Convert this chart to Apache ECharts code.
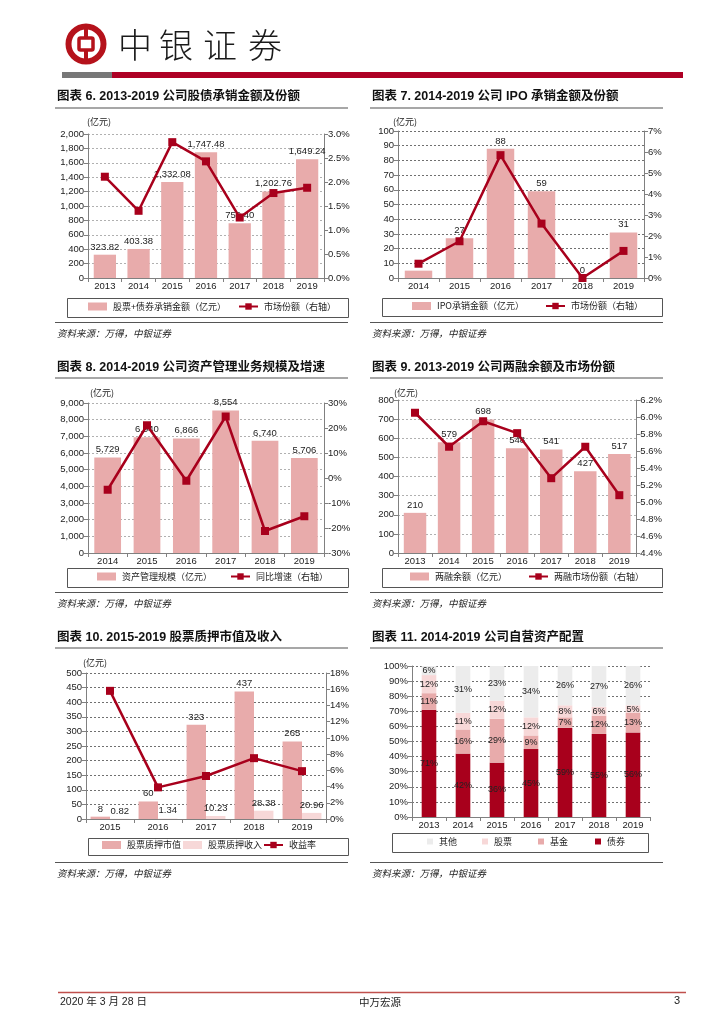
<!DOCTYPE html>
<html><head><meta charset="utf-8">
<script src="https://cdn.jsdelivr.net/npm/echarts@6/dist/echarts.min.js"></script>
<style>
html,body{margin:0;padding:0;background:#fff;}
#page{position:absolute;left:0;top:0;width:724px;height:1024px;}
.panel{position:absolute;width:300px;height:260px;}
</style></head><body>
<div id="page"></div>
<div class="panel" id="c6" style="left:55px;top:85px"></div>
<div class="panel" id="c7" style="left:365px;top:85px"></div>
<div class="panel" id="c8" style="left:55px;top:355px"></div>
<div class="panel" id="c9" style="left:365px;top:355px"></div>
<div class="panel" id="c10" style="left:55px;top:625px"></div>
<div class="panel" id="c11" style="left:365px;top:625px"></div>
<script>
// ---------------- DATA ----------------
const years6 = ['2013','2014','2015','2016','2017','2018','2019'];
const underwriting6 = [323.82, 403.38, 1332.08, 1747.48, 759.40, 1202.76, 1649.24];
const share6 = [2.11, 1.40, 2.83, 2.43, 1.26, 1.77, 1.88];

const years7 = ['2014','2015','2016','2017','2018','2019'];
const ipo7 = [5, 27, 88, 59, 0, 31];
const share7 = [0.68, 1.75, 5.85, 2.59, 0.0, 1.29];

const years8 = ['2014','2015','2016','2017','2018','2019'];
const aum8 = [5729, 6940, 6866, 8554, 6740, 5706];
const growth8 = [-4.7, 21.1, -1.1, 24.6, -21.2, -15.3];

const years9 = ['2013','2014','2015','2016','2017','2018','2019'];
const margin9 = [210, 579, 698, 548, 541, 427, 517];
const share9 = [6.05, 5.65, 5.95, 5.81, 5.28, 5.65, 5.08];

const years10 = ['2015','2016','2017','2018','2019'];
const pledgeValue10 = [8, 60, 323, 437, 265];
const pledgeIncome10 = [0.82, 1.34, 10.23, 28.38, 20.96];
const yield10 = [15.8, 3.9, 5.3, 7.5, 5.9];

const years11 = ['2013','2014','2015','2016','2017','2018','2019'];
const bonds11 = [71, 42, 36, 45, 59, 55, 56];
const funds11 = [11, 16, 29, 9, 7, 12, 13];
const stocks11 = [12, 11, 12, 12, 8, 6, 5];
const others11 = [6, 31, 23, 34, 26, 27, 26];

// ---------------- STYLE ----------------
const RED = '#A8001C', PINK = '#E8ABAB', LPINK = '#F7D8D8', LGREY = '#ECECEC';
const FN = '"Liberation Sans","Noto Sans CJK SC",sans-serif';
const FC = '"Noto Sans CJK SC",sans-serif';
const SRC = '资料来源：万得，中银证券';

const thousands = v => Number(v).toLocaleString('en-US');
const thousands2 = v => Number(v).toLocaleString('en-US',{minimumFractionDigits:2,maximumFractionDigits:2});

function decor(d) {
  const g = [];
  g.push({type:'text', x:d.tx, y:d.ty, style:{text:d.title, font:'bold 12.5px '+FN, fill:'#111', verticalAlign:'middle'}});
  g.push({type:'line', shape:{x1:d.lx1,y1:23,x2:d.lx2,y2:23}, style:{stroke:'#8a8a8a', lineWidth:1.5}});
  if (d.ux !== undefined) g.push({type:'text', x:d.ux, y:d.uy, style:{text:'(亿元)', font:'9px '+FC, fill:'#222', verticalAlign:'middle'}});
  g.push({type:'rect', shape:{x:d.bx+0.5,y:d.by+0.5,width:d.bw,height:d.bh}, style:{fill:'rgba(0,0,0,0)', stroke:'#555', lineWidth:1}});
  g.push({type:'line', shape:{x1:d.lx1,y1:237.5,x2:d.lx2,y2:237.5}, style:{stroke:'#555', lineWidth:1}});
  g.push({type:'text', x:d.lx1+2, y:248, style:{text:SRC, font:'italic 9.5px '+FC, fill:'#222', verticalAlign:'middle'}});
  return g;
}
function leg(name, left, top, isBar, w, h) {
  const o = {data:[name], left:left, top:top, itemWidth:w||19, itemHeight:h||8, itemGap:0, padding:0, selectedMode:false,
    textStyle:{fontSize:9, color:'#222', fontFamily:FC, padding:[0,0,0,1]}};
  if (isBar) o.icon = 'rect';
  return o;
}
function vAxis(min,max,interval,fmt,pos,split,gc) {
  return {type:'value', position:pos, min:min, max:max, interval:interval,
    axisLine:{show:true, lineStyle:{color:'#808080'}},
    axisTick:{show:true, length:4, lineStyle:{color:'#808080'}},
    axisLabel:{fontSize:9.5, color:'#222', margin:4, fontFamily:FN, formatter:fmt},
    splitLine:{show:!!split, lineStyle:{color:gc||'#8a8a8a', type:[2,2], width:1}}};
}
function cAxis(data) {
  return {type:'category', data:data,
    axisLine:{lineStyle:{color:'#808080'}},
    axisTick:{show:true, length:4, lineStyle:{color:'#808080'}},
    axisLabel:{fontSize:9.5, color:'#222', margin:4, fontFamily:FN}};
}
function barS(name, data, color, gap, fmt, extra) {
  return Object.assign({type:'bar', name:name, data:data, yAxisIndex:0, z:2, barCategoryGap:gap,
    itemStyle:{color:color},
    label:{show:true, position:'top', distance:3, fontSize:9.5, color:'#222', fontFamily:FN, formatter:p=>fmt(p.value)}}, extra||{});
}
function lineS(name, data) {
  return {type:'line', name:name, data:data, yAxisIndex:1, z:5, symbol:'rect', symbolSize:8,
    itemStyle:{color:RED}, lineStyle:{color:RED, width:2.5}};
}
function make(id, opt) {
  const c = echarts.init(document.getElementById(id), null, {renderer:'canvas'});
  opt.animation = false;
  c.setOption(opt);
}

// ---------------- PAGE ----------------
const brandFont = '300 34px '+FC;
make('page', {
  graphic: [
    {type:'circle', shape:{cx:86, cy:44, r:17.5}, style:{fill:'rgba(0,0,0,0)', stroke:'#B5121B', lineWidth:6}},
    {type:'line', shape:{x1:86,y1:27,x2:86,y2:61}, style:{stroke:'#B5121B', lineWidth:4}},
    {type:'rect', shape:{x:79,y:38,width:14,height:12,r:1.5}, style:{fill:'#fff', stroke:'#B5121B', lineWidth:3.5}},
    {type:'text', x:135, y:45, style:{text:'中', font:brandFont, fill:'#1a1a1a', align:'center', verticalAlign:'middle'}},
    {type:'text', x:176, y:45, style:{text:'银', font:brandFont, fill:'#1a1a1a', align:'center', verticalAlign:'middle'}},
    {type:'text', x:220, y:45, style:{text:'证', font:brandFont, fill:'#1a1a1a', align:'center', verticalAlign:'middle'}},
    {type:'text', x:265, y:45, style:{text:'券', font:brandFont, fill:'#1a1a1a', align:'center', verticalAlign:'middle'}},
    {type:'rect', shape:{x:62,y:72,width:50,height:6}, style:{fill:'#777'}},
    {type:'rect', shape:{x:112,y:72,width:571,height:6}, style:{fill:'#AE0025'}},
    {type:'line', shape:{x1:58,y1:992.5,x2:686,y2:992.5}, style:{stroke:'#C0504D', lineWidth:1.5}},
    {type:'text', x:60, y:1002, style:{text:'2020 年 3 月 28 日', font:'10.5px '+FN, fill:'#222', verticalAlign:'middle'}},
    {type:'text', x:380, y:1002, style:{text:'中万宏源', font:'10.5px '+FC, fill:'#222', align:'center', verticalAlign:'middle'}},
    {type:'text', x:680, y:1001, style:{text:'3', font:'11px '+FN, fill:'#222', align:'right', verticalAlign:'middle'}}
  ]
});

// ---------------- CHART 6 ----------------
make('c6', {
  graphic: decor({title:'图表 6. 2013-2019 公司股债承销金额及份额', tx:2, ty:12, lx1:0, lx2:293, ux:32, uy:37, bx:12, by:213, bw:281, bh:19}),
  legend: [leg('股票+债券承销金额（亿元）', 33, 217, true), leg('市场份额（右轴）', 183, 217)],
  grid: {left:33, right:31, top:49, height:144},
  xAxis: cAxis(years6),
  yAxis: [vAxis(0,2000,200,thousands,'left',true,'#b0b0b0'), vAxis(0,3,0.5,v=>v.toFixed(1)+'%','right',false)],
  series: [barS('股票+债券承销金额（亿元）', underwriting6, PINK, '34%', thousands2), lineS('市场份额（右轴）', share6)]
});

// ---------------- CHART 7 ----------------
make('c7', {
  graphic: decor({title:'图表 7. 2014-2019 公司 IPO 承销金额及份额', tx:7, ty:12, lx1:5, lx2:298, ux:28, uy:37, bx:17, by:213, bw:280, bh:18}),
  legend: [leg('IPO承销金额（亿元）', 47, 216.5, true), leg('市场份额（右轴）', 180, 216.5)],
  grid: {left:33, right:21, top:46, height:147},
  xAxis: cAxis(years7),
  yAxis: [vAxis(0,100,10,v=>v,'left',true,'#707070'), vAxis(0,7,1,v=>v+'%','right',false)],
  series: [barS('IPO承销金额（亿元）', ipo7, PINK, '33%', v=>v), lineS('市场份额（右轴）', share7)]
});

// ---------------- CHART 8 ----------------
make('c8', {
  graphic: decor({title:'图表 8. 2014-2019 公司资产管理业务规模及增速', tx:2, ty:13, lx1:0, lx2:293, ux:35, uy:38, bx:12, by:213, bw:281, bh:19}),
  legend: [leg('资产管理规模（亿元）', 42, 217, true), leg('同比增速（右轴）', 175, 217)],
  grid: {left:33, right:31, top:48, height:150},
  xAxis: cAxis(years8),
  yAxis: [vAxis(0,9000,1000,thousands,'left',true,'#b0b0b0'), vAxis(-30,30,10,v=>v+'%','right',false)],
  series: [barS('资产管理规模（亿元）', aum8, PINK, '32%', thousands), lineS('同比增速（右轴）', growth8)]
});

// ---------------- CHART 9 ----------------
make('c9', {
  graphic: decor({title:'图表 9. 2013-2019 公司两融余额及市场份额', tx:7, ty:13, lx1:5, lx2:298, ux:29, uy:38, bx:17, by:213, bw:280, bh:19}),
  legend: [leg('两融余额（亿元）', 45, 217, true), leg('两融市场份额（右轴）', 163, 217)],
  grid: {left:33, right:27, top:45, height:153},
  xAxis: cAxis(years9),
  yAxis: [vAxis(0,800,100,v=>v,'left',true,'#b0b0b0'), vAxis(4.4,6.2,0.2,v=>v.toFixed(1)+'%','right',false)],
  series: [barS('两融余额（亿元）', margin9, PINK, '34%', v=>v), lineS('两融市场份额（右轴）', share9)]
});

// ---------------- CHART 10 ----------------
make('c10', {
  graphic: decor({title:'图表 10. 2015-2019 股票质押市值及收入', tx:2, ty:13, lx1:0, lx2:293, ux:28, uy:38, bx:33, by:213, bw:260, bh:17}),
  legend: [leg('股票质押市值', 47, 215.5, true), leg('股票质押收入', 128, 215.5, true), leg('收益率', 208, 215.5)],
  grid: {left:31, right:29, top:48, height:146},
  xAxis: cAxis(years10),
  yAxis: [vAxis(0,500,50,v=>v,'left',true,'#707070'), vAxis(0,18,2,v=>v+'%','right',false)],
  series: [
    barS('股票质押市值', pledgeValue10, PINK, '19%', v=>v, {barGap:'0%'}),
    barS('股票质押收入', pledgeIncome10, LPINK, '19%', v=>v.toFixed(2), {barGap:'0%'}),
    lineS('收益率', yield10)
  ]
});

// ---------------- CHART 11 ----------------
function stackS(name, data, color) {
  return {type:'bar', name:name, data:data, stack:'all', barCategoryGap:'57%', itemStyle:{color:color},
    label:{show:true, position:'inside', fontSize:9, color:'#222', fontFamily:FN, formatter:p=>p.value+'%'}};
}
make('c11', {
  graphic: decor({title:'图表 11. 2014-2019 公司自营资产配置', tx:7, ty:13, lx1:5, lx2:298, bx:27, by:208, bw:256, bh:19}),
  legend: [leg('其他', 62, 212, true, 6, 6), leg('股票', 117, 212, true, 6, 6), leg('基金', 173, 212, true, 6, 6), leg('债券', 230, 212, true, 6, 6)],
  grid: {left:47, right:15, top:41, height:151},
  xAxis: cAxis(years11),
  yAxis: vAxis(0,100,10,v=>v+'%','left',true,'#707070'),
  series: [
    stackS('债券', bonds11, RED),
    stackS('基金', funds11, PINK),
    stackS('股票', stocks11, LPINK),
    stackS('其他', others11, LGREY)
  ]
});
</script>
</body></html>
